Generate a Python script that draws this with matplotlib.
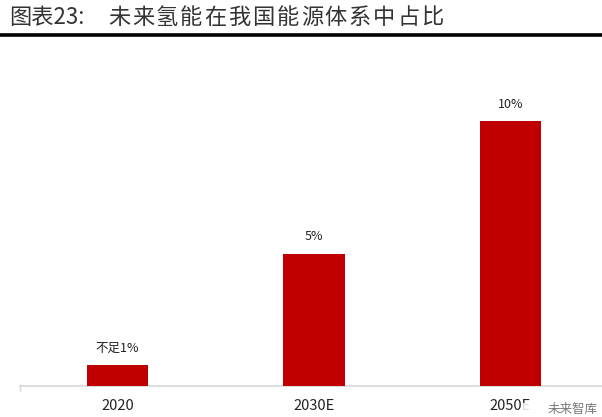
import matplotlib
matplotlib.use("Agg")
import matplotlib.pyplot as plt

plt.rcParams['font.family'] = ['Noto Sans CJK SC', 'DejaVu Sans']

W, H = 602, 417

categories = ["2020", "2030E", "2050E"]
values = [0.8, 5, 10]
bar_labels = ["不足1%", "5%", "10%"]
title_prefix = "图表23:"
title_chars = "未来氢能在我国能源体系中占比"
watermark = "未来智库"

RED = "#c00000"

fig = plt.figure(figsize=(W / 100, H / 100), dpi=100)

# axes box in pixels: left 19.5, baseline at y=386, top at y=48
ax = fig.add_axes([19.5 / W, (H - 386) / H, (W - 19.5) / W, (386 - 48) / H])
ax.bar(range(3), values, width=0.313, color=RED, zorder=3)
ax.set_xlim(-0.4987, 2.4656)
ax.set_ylim(0, 338 / 26.5)

for i, (v, lab) in enumerate(zip(values, bar_labels)):
    ax.annotate(lab, xy=(i, v), xytext=(0, 10), textcoords="offset pixels",
                ha="center", va="bottom", fontsize=9, color="#222222")

for s in ["top", "right", "left"]:
    ax.spines[s].set_visible(False)
ax.spines["bottom"].set_color("#d9d9d9")
ax.spines["bottom"].set_linewidth(1.2)
ax.set_yticks([])
ax.set_xticks(range(3))
ax.set_xticklabels(categories, fontsize=10.5, color="#222222")
ax.tick_params(axis="x", length=0, pad=9)

# small end tick at the left of the axis
fig.add_artist(plt.Line2D([19.5 / W] * 2, [(H - 391) / H, (H - 385) / H], color="#d9d9d9", lw=1))

# header: prefix + evenly spaced characters, then thick rule
fig.text(9 / W, 1 - 17 / H, title_prefix, fontsize=16, color="#333333", va="center", ha="left")
for i, ch in enumerate(title_chars):
    fig.text((119 + i * 24.1) / W, 1 - 17 / H, ch, fontsize=16, color="#333333", va="center", ha="center")
fig.add_artist(plt.Line2D([0, 1], [1 - 34.5 / H] * 2, color="black", lw=2.6))

# watermark covering the corner of the last label
fig.add_artist(plt.Rectangle((522 / W, 0), 80 / W, 14 / H, transform=fig.transFigure,
                             facecolor="white", edgecolor="none", alpha=0.85))
fig.text(548 / W, 1 - 409.5 / H, watermark, fontsize=9, color="#777777", va="center", ha="left", zorder=5)

fig.savefig("out.png", dpi=100)
